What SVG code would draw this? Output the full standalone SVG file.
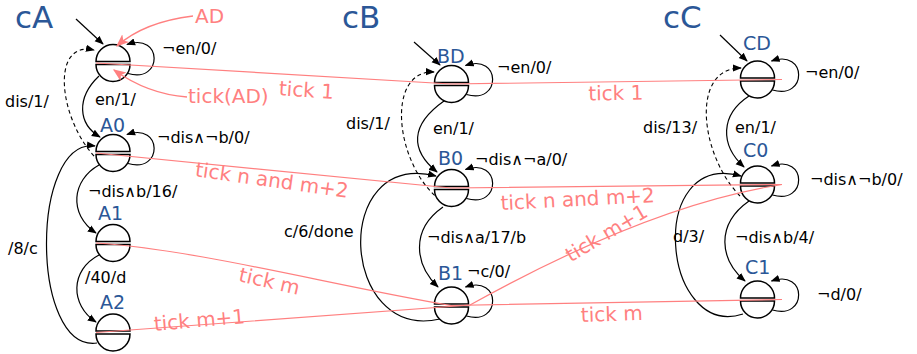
<svg xmlns="http://www.w3.org/2000/svg" xmlns:xlink="http://www.w3.org/1999/xlink" width="917" height="354" viewBox="0 0 917 354">
<style>
.bg{fill:#fff}
.e{fill:none;stroke:#000;stroke-width:1.2;marker-end:url(#ar)}
.d{fill:none;stroke:#000;stroke-width:1.1;stroke-dasharray:4,3;marker-end:url(#ar)}
.pk{fill:none;stroke:#ff8080;stroke-width:1.2}
.pa{fill:none;stroke:#ff8080;stroke-width:1.4;marker-end:url(#pa)}
.s path{fill:#fff;stroke:#000;stroke-width:1.5}
text{font-family:"DejaVu Sans","Noto Sans",sans-serif}
.t{font-size:16px;fill:#000}
.n{font-size:19px;fill:#2b5797}
.h{font-size:31px;fill:#2b5797}
.p{font-size:20px;fill:#ff8080}
</style>
<defs>
<marker id="ar" viewBox="0 0 10 10" refX="9" refY="5" markerWidth="9" markerHeight="9" markerUnits="userSpaceOnUse" orient="auto"><path d="M0,1 L10,5 L0,9 z" fill="#000"/></marker>
<marker id="pa" viewBox="0 0 10 10" refX="9" refY="5" markerWidth="13" markerHeight="13" markerUnits="userSpaceOnUse" orient="auto"><path d="M0,1 L10,5 L0,9 L2.5,5 z" fill="#ff8080"/></marker>
<g id="st" class="s"><path d="M-17,0 A17,17 0 0 1 17,0 Z"/><path d="M-17,3 A17,17 0 0 0 17,3 Z"/></g>
</defs>
<rect class="bg" x="0" y="0" width="917" height="354"/>

<g id="connectors">
<!-- machine A -->
<path class="e" d="M76,19 L103,44"/>
<path class="e" d="M128,73.5 C163,84 163,32 127,44.5"/>
<path class="e" d="M99,76 C76,98 78,124 100,137"/>
<path class="d" d="M99,161 C60,125 48,40 94,50"/>
<path class="e" d="M128,163.5 C163,174 163,122 127,134.5"/>
<path class="e" d="M99,165 C72,180 68,214 96,233"/>
<path class="e" d="M99,255 C70,270 70,305 96,322"/>
<path class="e" d="M97,343 C30,352 30,138 95,146"/>
<!-- machine B -->
<path class="e" d="M414,42 L440,65"/>
<path class="e" d="M466.5,94.5 C501.5,105 501.5,53 465.5,65.5"/>
<path class="e" d="M444,101 C410,125 410,150 437,172"/>
<path class="d" d="M440,200 C395,165 385,70 434,72"/>
<path class="e" d="M466.5,198.5 C501.5,209 501.5,157 465.5,169.5"/>
<path class="e" d="M443,207 C410,230 415,265 438,287"/>
<path class="e" d="M440,319 C340,342 330,150 436,176"/>
<path class="e" d="M466.5,316 C501.5,326.5 501.5,274.5 465.5,287"/>
<!-- machine C -->
<path class="e" d="M720,35 L747,61"/>
<path class="e" d="M772.5,90 C807.5,100.5 807.5,48.5 771.5,61"/>
<path class="e" d="M749,96 C720,115 720,145 744,167"/>
<path class="d" d="M740,196 C700,155 690,68 741,68"/>
<path class="e" d="M772.5,195 C807.5,205.5 807.5,153.5 771.5,166"/>
<path class="e" d="M749,201 C715,225 720,260 745,281"/>
<path class="e" d="M743,314 C662,340 645,150 741,176"/>
<path class="e" d="M772.5,310 C807.5,320.5 807.5,268.5 771.5,281"/>
</g>

<g id="AD"><use xlink:href="#st" x="113" y="61.5"/></g>
<g id="A0"><use xlink:href="#st" x="113" y="151.5"/></g>
<g id="A1"><use xlink:href="#st" x="113" y="241.5"/></g>
<g id="A2"><use xlink:href="#st" x="113" y="331"/></g>
<g id="BD"><use xlink:href="#st" x="451.5" y="82.5"/></g>
<g id="B0"><use xlink:href="#st" x="451.5" y="186.5"/></g>
<g id="B1"><use xlink:href="#st" x="451.5" y="304"/></g>
<g id="CD"><use xlink:href="#st" x="757.5" y="78"/></g>
<g id="C0"><use xlink:href="#st" x="757.5" y="183"/></g>
<g id="C1"><use xlink:href="#st" x="757.5" y="298"/></g>

<g id="ticks">
<path class="pk" d="M96,63 L451,84 L782,79.5"/>
<path class="pk" d="M96,153 L451,188 L782,184.5"/>
<path class="pk" d="M96,243 C200,250 330,285 451,305.5 L782,299.5"/>
<path class="pk" d="M96,332.5 L470,305 Q650,205 782,184.5"/>
<path class="pa" d="M193,16 C160,20 135,30 117,46"/>
<path class="pa" d="M187,97 C160,95 135,85 114,70"/>
</g>

<g id="labels">
<text class="h" x="15" y="28">cA</text>
<text class="h" x="342" y="28">cB</text>
<text class="h" x="663" y="28">cC</text>
<text class="n" x="100" y="132">A0</text>
<text class="n" x="98" y="220">A1</text>
<text class="n" x="100" y="309">A2</text>
<text class="n" x="437" y="63">BD</text>
<text class="n" x="438" y="165">B0</text>
<text class="n" x="438" y="280">B1</text>
<text class="n" x="743" y="50">CD</text>
<text class="n" x="743" y="157">C0</text>
<text class="n" x="745" y="274">C1</text>

<text class="t" x="162" y="54">¬en/0/</text>
<text class="t" x="95" y="105">en/1/</text>
<text class="t" x="5" y="107">dis/1/</text>
<text class="t" x="157" y="143">¬dis∧¬b/0/</text>
<text class="t" x="88" y="197">¬dis∧b/16/</text>
<text class="t" x="8" y="254">/8/c</text>
<text class="t" x="85" y="283">/40/d</text>

<text class="t" x="497" y="73">¬en/0/</text>
<text class="t" x="346" y="129">dis/1/</text>
<text class="t" x="433" y="134">en/1/</text>
<text class="t" x="475" y="165">¬dis∧¬a/0/</text>
<text class="t" x="284" y="237">c/6/done</text>
<text class="t" x="427" y="243">¬dis∧a/17/b</text>
<text class="t" x="467" y="277">¬c/0/</text>

<text class="t" x="805" y="78">¬en/0/</text>
<text class="t" x="643" y="133">dis/13/</text>
<text class="t" x="735" y="133">en/1/</text>
<text class="t" x="810" y="185">¬dis∧¬b/0/</text>
<text class="t" x="673" y="242">d/3/</text>
<text class="t" x="735" y="243">¬dis∧b/4/</text>
<text class="t" x="817" y="300">¬d/0/</text>

<text class="p" x="195" y="23">AD</text>
<text class="p" x="188" y="103">tick(AD)</text>
<g text-anchor="middle">
<text class="p" x="306" y="97" transform="rotate(4 306 97)">tick 1</text>
<text class="p" x="616" y="100" transform="rotate(-1 616 100)">tick 1</text>
<text class="p" x="271" y="187" transform="rotate(8 271 187)">tick n and m+2</text>
<text class="p" x="578" y="206" transform="rotate(-3 578 206)">tick n and m+2</text>
<text class="p" x="268" y="288" transform="rotate(13 268 288)">tick m</text>
<text class="p" x="200" y="327" transform="rotate(-5 200 327)">tick m+1</text>
<text class="p" x="610" y="239" transform="rotate(-31 610 239)">tick m+1</text>
<text class="p" x="612" y="321" transform="rotate(-2 612 321)">tick m</text>
</g>
</g>
</svg>
